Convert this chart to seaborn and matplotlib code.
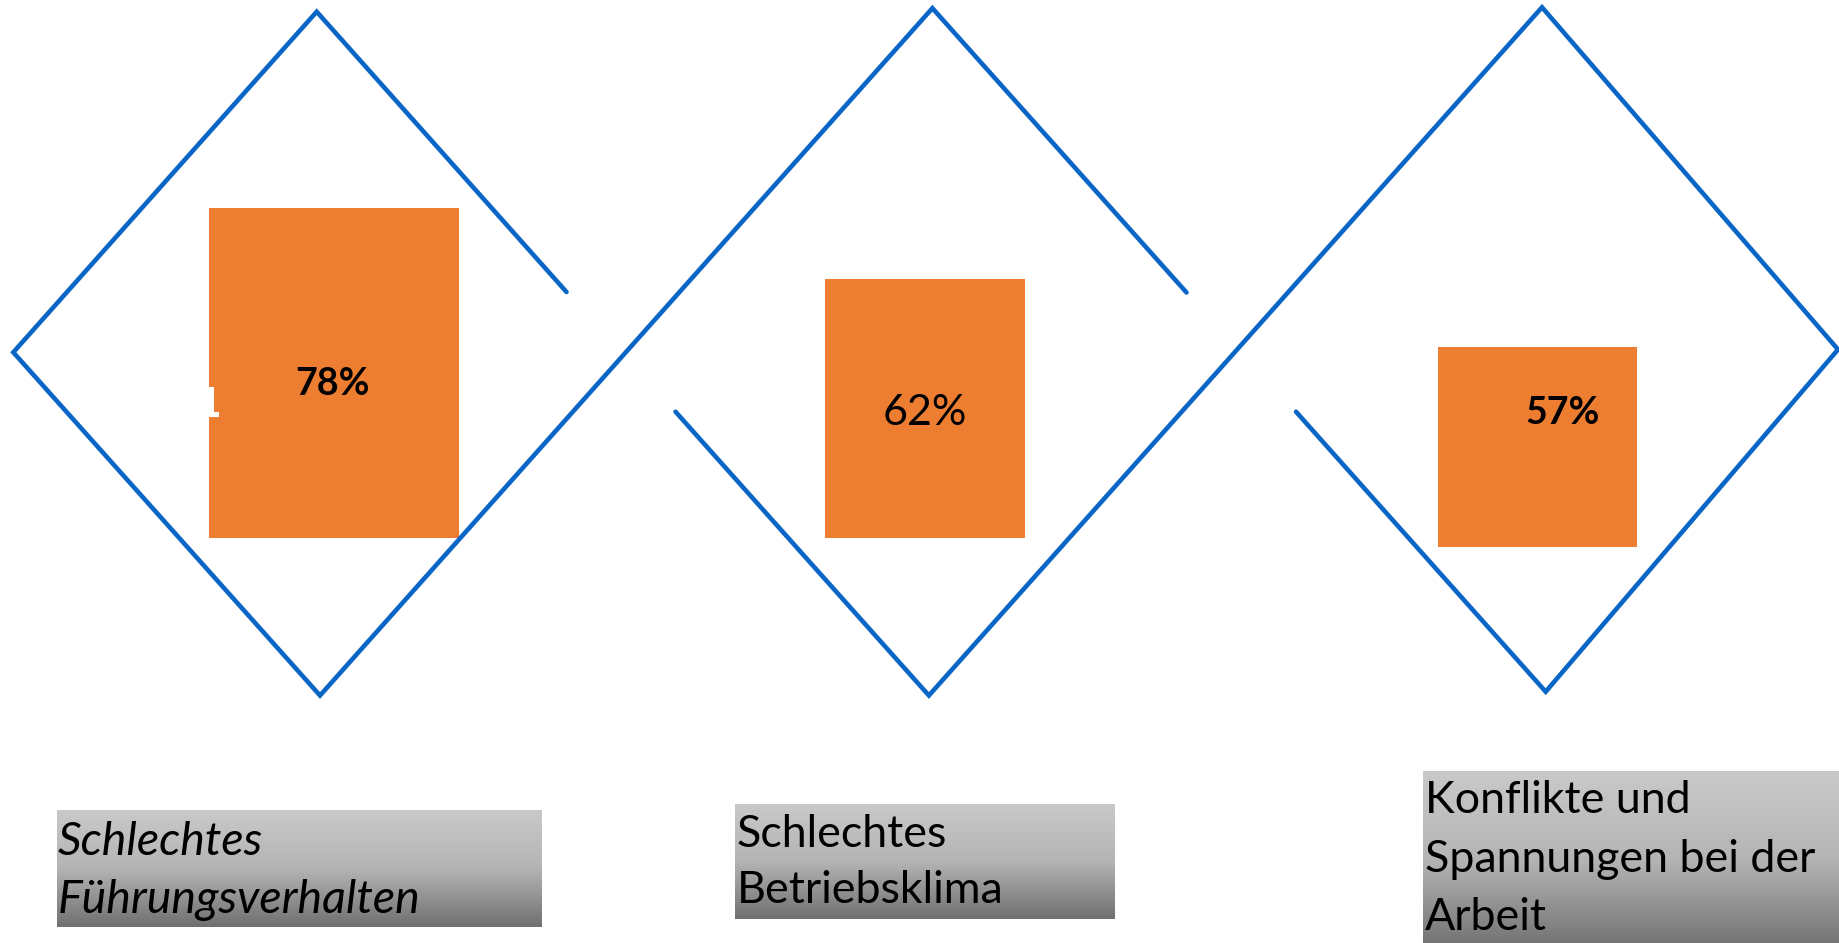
import numpy as np
import pandas as pd
import matplotlib
matplotlib.use("Agg")
import matplotlib.pyplot as plt
from matplotlib.colors import LinearSegmentedColormap
import seaborn as sns

# ---- data ----
categories = ["Schlechtes\nFührungsverhalten", "Schlechtes\nBetriebsklima",
              "Konflikte und\nSpannungen bei der\nArbeit"]
values = [78, 62, 57]
value_labels = ["78%", "62%", "57%"]
label_italic = [True, False, False]
value_bold = [True, False, True]

# ---- layout (pixel space of the canvas) ----
W, H = 1839, 943
bar_left = [209, 825.5, 1438]
bar_right = [458.6, 1025, 1637.5]
bar_top = [207.5, 279.3, 347.2]
bar_bottom = [538.3, 538.3, 546.6]
value_xy = [(333, 384), (925, 413), (1562.5, 413.5)]
value_size = [27, 31, 27]

box_x0 = [57.5, 735.3, 1422.7]
box_x1 = [541.8, 1114.5, 1845]
box_y0 = [810.5, 804.5, 771.7]
box_y1 = [927, 919, 950]
label_x = [57.5, 736.5, 1425]
label_base = [855, 846.7, 813]
label_step = [57.7, 56.6, 58.5]
label_size = [33.5, 32.2, 32.2]

path_a_x = [566.5, 316.7, 13.3, 320, 932.4, 1186.5]
path_a_y = [292, 11.7, 352.3, 695.5, 8.2, 292.5]
path_b_x = [675.5, 928.9, 1542, 1838, 1545.7, 1296]
path_b_y = [411.7, 695.5, 7.3, 349.5, 691.7, 411.7]

BLUE = "#0A66C6"
ORANGE = "#ED7D31"

sns.set_theme(style="white")
plt.rcParams["font.family"] = ["Lato", "DejaVu Sans"]

fig = plt.figure(figsize=(W / 100, H / 100), dpi=100)
ax = fig.add_axes([0, 0, 1, 1])

# bars
heights = [b - t for b, t in zip(bar_bottom, bar_top)]
widths = [r - l for r, l in zip(bar_right, bar_left)]
ax.bar(bar_left, heights, width=widths, bottom=bar_top, align="edge",
       color=ORANGE, edgecolor="none", zorder=2)
# small white notch at the left edge of the first bar
ax.add_patch(plt.Rectangle((209, 386.7), 5, 30, color="white", zorder=3, lw=0))
ax.add_patch(plt.Rectangle((209, 411.7), 10.3, 5, color="white", zorder=3, lw=0))

# blue zig-zag lines
for px, py in [(path_a_x, path_a_y), (path_b_x, path_b_y)]:
    df = pd.DataFrame({"x": px, "y": py})
    sns.lineplot(data=df, x="x", y="y", sort=False, estimator=None, ax=ax,
                 color=BLUE, lw=3.3, solid_joinstyle="miter", zorder=4)

# value labels
for (x, y), txt, bold, fs in zip(value_xy, value_labels, value_bold, value_size):
    ax.text(x, y, txt, ha="center", va="center", fontsize=fs,
            fontweight="bold" if bold else "normal", color="black", zorder=5)

# gradient label boxes
cmap = LinearSegmentedColormap.from_list("g", ["#c9c9c9", "#b4b4b4", "#707070"])
grad = np.linspace(0, 1, 256).reshape(-1, 1)
for i, cat in enumerate(categories):
    ax.imshow(grad, cmap=cmap, aspect="auto", interpolation="bilinear",
              extent=[box_x0[i], box_x1[i], box_y1[i], box_y0[i]], zorder=1)
    for j, line in enumerate(cat.split("\n")):
        ax.text(label_x[i], label_base[i] + j * label_step[i], line,
                ha="left", va="baseline", fontsize=label_size[i],
                fontstyle="italic" if label_italic[i] else "normal",
                color="black", zorder=5)

ax.set_xlim(0, W)
ax.set_ylim(H, 0)
ax.axis("off")
fig.savefig("out.png", dpi=100, facecolor="white")
